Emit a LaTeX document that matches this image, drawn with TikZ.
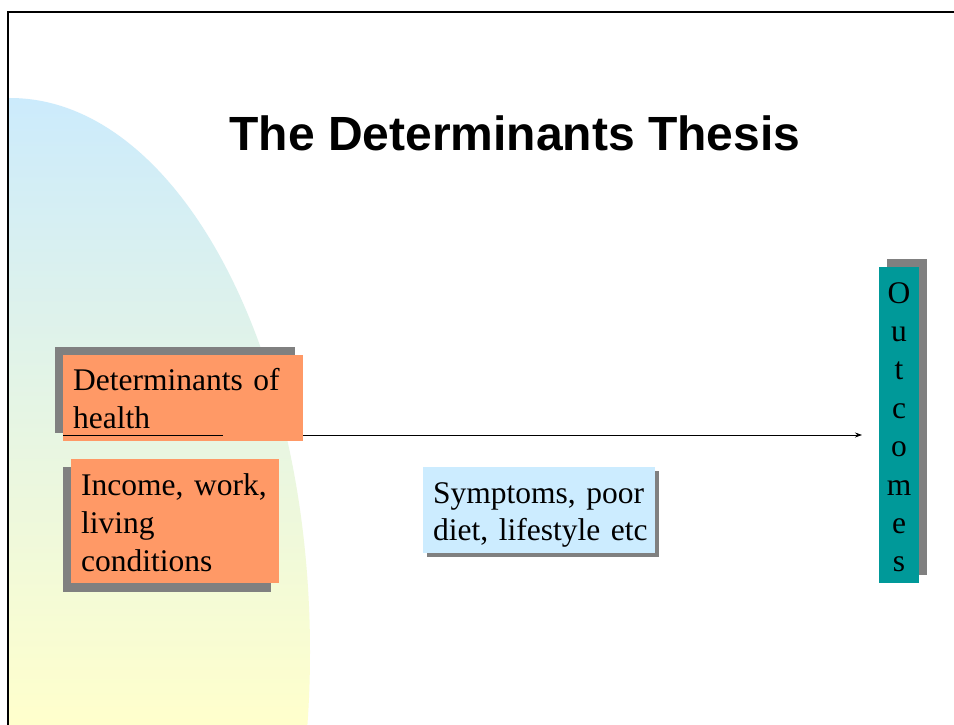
\documentclass[tikz,border=0pt]{standalone}
\usepackage{fontspec}
\setmainfont{Liberation Serif}
\newfontfamily\titlefont{Liberation Sans}
\usetikzlibrary{calc,arrows.meta}
\definecolor{orangebox}{RGB}{255,153,102}
\definecolor{shadowgray}{RGB}{128,128,128}
\definecolor{tealbox}{RGB}{0,153,153}
\definecolor{bluebox}{RGB}{204,236,255}
\definecolor{bgblue}{RGB}{204,235,252}
\definecolor{bgyellow}{RGB}{255,255,204}
\tikzset{
  boxbase/.style={anchor=north west, inner sep=0pt, draw=none},
  shadowbox/.style={boxbase, fill=shadowgray},
  orangecard/.style={boxbase, fill=orangebox},
  bluecard/.style={boxbase, fill=bluebox},
  tealcard/.style={boxbase, fill=tealbox},
  cardtext/.style={anchor=base west, inner sep=0pt, align=left, text width=#1,
    font=\fontsize{31.5}{38}\selectfont},
  cardtext/.default=230pt,
  connector/.style={line width=0.8pt, draw=black},
}
\begin{document}
\begin{tikzpicture}[x=1pt,y=-1pt]
\useasboundingbox (0,0) rectangle (954,725);
\fill[white] (0,0) rectangle (954,725);
% background shape
\begin{scope}
  \clip (10,652) ellipse [x radius=300, y radius=554];
  \shade[top color=bgblue, bottom color=bgyellow] (8,98) rectangle (330,725);
\end{scope}
% frame
\draw[line width=2pt] (8,725) -- (8,12) -- (954,12);
% title
\node[anchor=base, inner sep=0pt, font=\titlefont\bfseries\fontsize{48}{56}\selectfont] (title) at (515,150) {The Determinants Thesis};
% Determinants of health
\node[shadowbox, minimum width=240pt, minimum height=86pt] (detsh) at (55,347) {};
\node[orangecard, minimum width=240pt, minimum height=86pt] (det) at (63,355) {};
\node[cardtext] (dett) at (73,390) {Determinants of\\health};
% Income box
\node[shadowbox, minimum width=208pt, minimum height=125pt] (incsh) at (63,467) {};
\node[orangecard, minimum width=208pt, minimum height=124pt] (inc) at (71,459) {};
\node[cardtext=200pt] (inct) at (81,495) {Income, work,\\living\\conditions};
% Symptoms box
\node[shadowbox, minimum width=232pt, minimum height=86pt] (symsh) at (427,471) {};
\node[bluecard, minimum width=232pt, minimum height=86pt] (sym) at (423,467) {};
\node[cardtext=225pt, font=\fontsize{31.5}{37}\selectfont] (symt) at (433,503) {Symptoms, poor\\diet, lifestyle etc};
% Outcomes box
\node[shadowbox, minimum width=40pt, minimum height=316pt] (outsh) at (887,259) {};
\node[tealcard, minimum width=40pt, minimum height=316pt] (out) at (879,267) {};
\node[anchor=base, inner sep=0pt, align=center, text width=40pt, font=\fontsize{31.5}{38.4}\selectfont] (outt) at (899,303) {O\\u\\t\\c\\o\\m\\e\\s};
% connectors
\coordinate (ulend) at (223,435);
\coordinate (arrend) at (862,435);
\draw[connector] (det.west |- ulend) -- (ulend);
\draw[connector, -{Stealth[length=7pt,width=5pt]}] (det.east |- ulend) -- (arrend);
\end{tikzpicture}
\end{document}
